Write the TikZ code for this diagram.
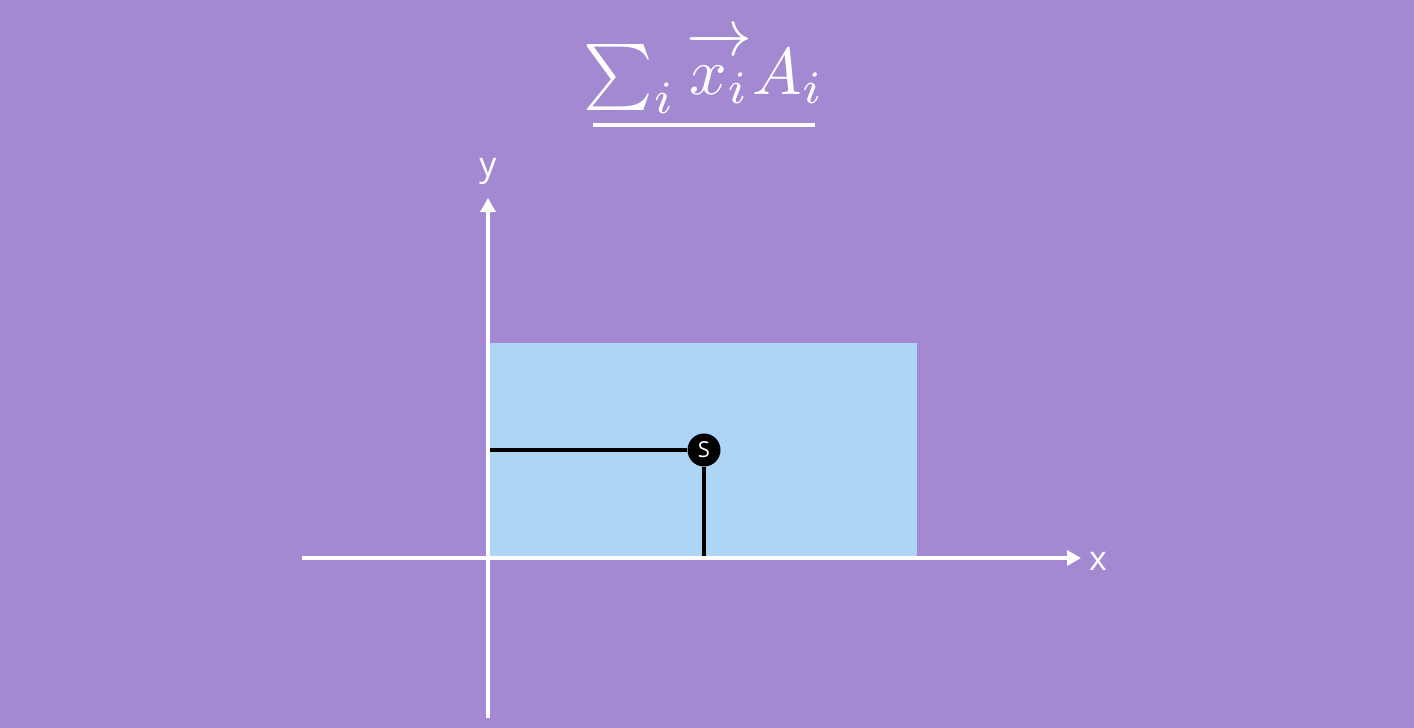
\documentclass[tikz,border=0pt]{standalone}
\usepackage{fontspec}
\setsansfont{Open Sans}
\usetikzlibrary{arrows.meta}
\definecolor{bg}{RGB}{162,137,210}
\definecolor{area}{RGB}{174,212,246}
\tikzset{
  axis/.style={draw=white, line width=1.6pt, -{Triangle[length=7pt,width=7.5pt]}},
  guide/.style={draw=black, line width=1.6pt},
  axlabel/.style={text=white, font=\sffamily\fontsize{17}{20}\selectfont, inner sep=0pt},
  point/.style={circle, fill=black, minimum size=16.5pt, inner sep=0pt, text=white, font=\sffamily\fontsize{11}{12}\selectfont}
}
\begin{document}
\begin{tikzpicture}[x=0.5pt, y=-0.5pt]
\fill[bg] (0,0) rectangle (1414,728);
\useasboundingbox (0,0) rectangle (1414,728);
% shaded area
\fill[area] (490,343) rectangle (917,556);
% guides
\coordinate (gy) at (490,450);
\coordinate (gx) at (704,556);
\node[point] (S) at (704,450) {S};
\draw[guide] (gy) -- (S.west);
\draw[guide] (S.south) -- (gx);
% axes
\coordinate (ybot) at (488,718);
\coordinate (ytop) at (488,198);
\coordinate (xleft) at (302,558);
\coordinate (xright) at (1081,558);
\draw[axis] (ybot) -- (ytop);
\draw[axis] (xleft) -- (xright);
\node[axlabel] (ylab) at (488,171) {y};
\node[axlabel] (xlab) at (1098,561) {x};
% formula
\node[text=white, inner sep=0pt, anchor=base, scale=3.3] (formula) at (704,94)
  {$\textstyle\sum_i \overrightarrow{x_i\vphantom{A}} A_i$};
\coordinate (ul) at (593,125);
\coordinate (ur) at (815,125);
\draw[white, line width=2pt] (ul) -- (ur);
\end{tikzpicture}
\end{document}
